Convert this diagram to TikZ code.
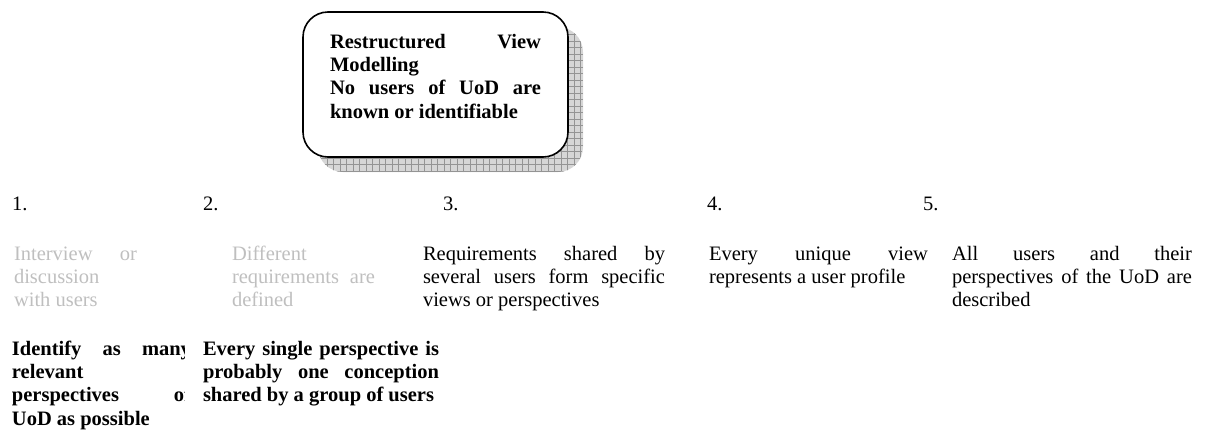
\documentclass[tikz,border=0pt]{standalone}
\usepackage{fontspec}
\setmainfont{Liberation Serif}
\hyphenpenalty=10000
\exhyphenpenalty=10000
\begin{document}
\begin{tikzpicture}[x=1pt,y=1pt,
  txt/.style={anchor=base west, inner sep=0pt, outer sep=0pt, align=justify,
    font=\fontsize{20.5}{23.4}\selectfont\sloppy},
  btxt/.style={txt, font=\fontsize{20.5}{23.4}\selectfont\bfseries\sloppy},
  faint/.style={txt, text=black!25},
  num/.style={anchor=base west, inner sep=0pt, font=\fontsize{20.5}{23.4}\selectfont},
  shadowbox/.style={rounded corners=25, fill=black!16, minimum width=265, minimum height=145,
    inner sep=0pt,
    path picture={\draw[black!42, line width=0.5, step=6.5]
      (path picture bounding box.south west) grid (path picture bounding box.north east);}},
  mainbox/.style={rounded corners=25, draw=black, line width=1.6, fill=white,
    minimum width=265, minimum height=145, inner sep=0pt}
]
\useasboundingbox (0,0) rectangle (1207,-429);

% titled box with grid shadow
\node[shadowbox] (shadow) at (450.5,-99.5) {};
\node[mainbox] (box) at (435.5,-84.5) {};
\node[btxt, text width=211] (title) at (330,-48)
  {Restructured View\linebreak Modelling\\ No users of UoD are\linebreak known or identifiable};

% step numbers
\node[num] (n1) at (12,-210) {1.};
\node[num] (n2) at (203,-210) {2.};
\node[num] (n3) at (443,-210) {3.};
\node[num] (n4) at (707,-210) {4.};
\node[num] (n5) at (923,-210) {5.};

% step descriptions
\node[faint, text width=123] (g1) at (14,-260)
  {Interview or\linebreak discussion\linebreak with users};
\node[faint, text width=143] (g2) at (232,-260)
  {Different\linebreak requirements are\linebreak defined};
\begin{scope}
  \clip (400,-230) rectangle (700,-312);
  \node[txt, text width=242] (g3) at (423,-260)
    {Requirements shared by\linebreak several users form specific\linebreak views or perspectives};
\end{scope}
\node[txt, text width=219] (g4) at (709,-260)
  {Every unique view\linebreak represents a user profile};
\node[txt, text width=240] (g5) at (952,-260)
  {All users and their\linebreak perspectives of the UoD are\linebreak described};

% bold results
\begin{scope}
  \clip (0,-330) rectangle (184,-429);
  \node[btxt, text width=179] (b1) at (12,-355)
    {Identify as many\linebreak relevant\linebreak perspectives of\linebreak UoD as possible};
\end{scope}
\node[btxt, text width=236] (b2) at (203,-355)
  {Every single perspective is\linebreak probably one conception\linebreak shared by a group of users};
\end{tikzpicture}
\end{document}
